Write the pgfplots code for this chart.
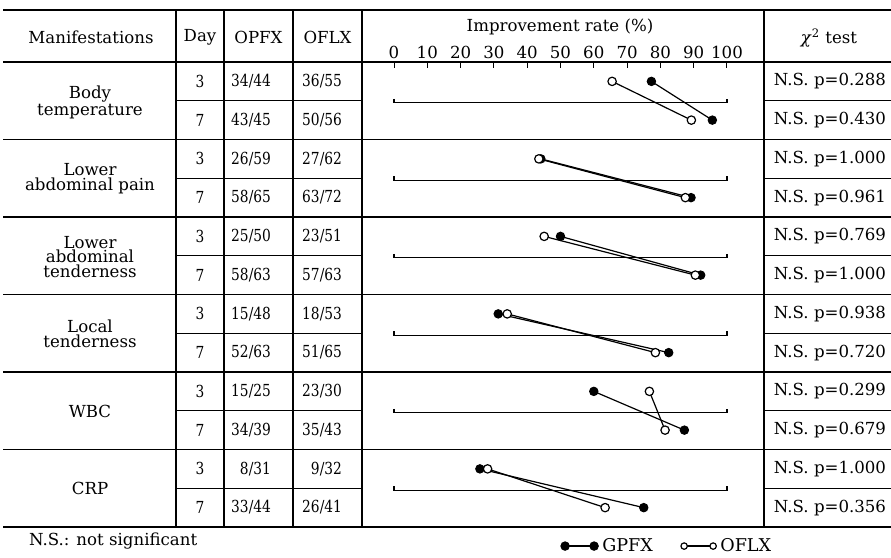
\documentclass[border=0pt]{standalone}
\usepackage{fontspec}
\setmainfont{DejaVu Serif}
\newfontfamily\numfont{DejaVu Serif}[FakeStretch=0.83]
\usepackage{pgfplots}
\pgfplotsset{compat=1.18}

\newcommand{\tf}{\fontsize{8.3}{7.4}\selectfont}

\pgfplotsset{
    gp/.style={black, line width=0.6pt, mark=*, mark size=2.1pt, mark options={fill=black, line width=0.5pt}},
    of/.style={black, line width=0.6pt, mark=*, mark size=2.1pt, mark options={fill=white, line width=0.6pt}},
    brk/.style={black, line width=0.55pt, mark=none},
}

\begin{document}
\begin{tikzpicture}[font=\tf]
    % table grid, in pixel units of the 891x558 reference
    \begin{scope}[x=0.5pt, y=-0.5pt]
        \draw[line width=0.9pt] (3,10) -- (891,10);
        \draw[line width=0.75pt] (3,62) -- (891,62);
        \foreach \y in {139.5,217,294.5,372,449.5}
            \draw[line width=0.7pt] (3,\y) -- (891,\y);
        \draw[line width=0.9pt] (3,527) -- (891,527);
        \foreach \x in {176,224,293,362,764}
            \draw[line width=0.65pt] (\x,10) -- (\x,527);
        \foreach \y in {100.75,178.25,255.75,333.25,410.75,488.25} {
            \draw[line width=0.55pt] (176,\y) -- (362,\y);
            \draw[line width=0.55pt] (764,\y) -- (891,\y);
        }
        % header
        \node at (91,37) {Manifestations};
        \node at (200,37) {Day};
        \node at (258.5,37) {OPFX};
        \node at (327.5,37) {OFLX};
        \node at (560,27) {Improvement rate (\%)};
        \node at (829,38) {\textit{χ}\textsuperscript{2} test};
        % manifestations
        \node[align=center] at (90,102) {Body\\temperature};
        \node[align=center] at (90,179) {Lower\\abdominal pain};
        \node[align=center] at (90,257) {Lower\\abdominal\\tenderness};
        \node[align=center] at (90,334) {Local\\tenderness};
        \node[align=center] at (90,411) {WBC};
        \node[align=center] at (90,488) {CRP};
        % day / counts / test per row
        \foreach \y/\d/\a/\b/\p in {
            81.4/3/34\slash 44/36\slash 55/0.288,
            120.1/7/43\slash 45/50\slash 56/0.430,
            158.9/3/26\slash 59/27\slash 62/1.000,
            197.6/7/58\slash 65/63\slash 72/0.961,
            236.4/3/25\slash 50/23\slash 51/0.769,
            275.1/7/58\slash 63/57\slash 63/1.000,
            313.9/3/15\slash 48/18\slash 53/0.938,
            352.6/7/52\slash 63/51\slash 65/0.720,
            391.4/3/15\slash 25/23\slash 30/0.299,
            430.1/7/34\slash 39/35\slash 43/0.679,
            468.9/3/8\slash 31/9\slash 32/1.000,
            507.6/7/33\slash 44/26\slash 41/0.356} {
            \node at (200,\y) {\numfont\d};
            \node[anchor=east] at (278,\y) {\numfont\a};
            \node[anchor=east] at (349,\y) {\numfont\b};
            \node at (830,\y) {N.S. p=\p};
        }
        \node[anchor=west] at (22,541) {N.S.: not significant};
    \end{scope}

    \begin{axis}[
        at={(197pt,-263.5pt)}, anchor=south west,
        scale only axis, width=166.5pt, height=232.5pt,
        xmin=0, xmax=100, ymin=0, ymax=12,
        clip=false,
        axis x line*=top, axis y line=none,
        axis line style={draw=none},
        xtick={0,10,...,100},
        tick align=inside, major tick length=3pt,
        xtick style={black, line width=0.5pt},
        /pgf/number format/assume math mode=true,
        tick label style={font=\tf, inner sep=1.2pt},
        legend columns=2,
        legend image code/.code={\draw[#1] plot coordinates {(0pt,0pt) (14.5pt,0pt)};},
        legend style={at={(0.5,-0.041)}, anchor=west, draw=none, fill=none,
            inner sep=0pt, font=\fontsize{8.8}{9}\selectfont,
            /tikz/every even column/.append style={column sep=12pt}},
    ]
        \addlegendimage{gp}
        \addlegendentry{GPFX}
        \addlegendimage{of, mark size=1.6pt}
        \addlegendentry{OFLX}

        % brackets
        \addplot[brk] coordinates {(0,11.05) (0,10.95) (100,10.95) (100,11.05)};
        \addplot[brk] coordinates {(0,9.05) (0,8.95) (100,8.95) (100,9.05)};
        \addplot[brk] coordinates {(0,7.05) (0,6.95) (100,6.95) (100,7.05)};
        \addplot[brk] coordinates {(0,5.05) (0,4.95) (100,4.95) (100,5.05)};
        \addplot[brk] coordinates {(0,3.05) (0,2.95) (100,2.95) (100,3.05)};
        \addplot[brk] coordinates {(0,1.05) (0,0.95) (100,0.95) (100,1.05)};

        % GPFX (day 3 upper row, day 7 lower row)
        \addplot[gp] coordinates {(77.3,11.5) (95.6,10.5)};
        \addplot[gp] coordinates {(44.1,9.5) (89.2,8.5)};
        \addplot[gp] coordinates {(50.0,7.5) (92.1,6.5)};
        \addplot[gp] coordinates {(31.3,5.5) (82.5,4.5)};
        \addplot[gp] coordinates {(60.0,3.5) (87.2,2.5)};
        \addplot[gp] coordinates {(25.8,1.5) (75.0,0.5)};

        % OFLX
        \addplot[of] coordinates {(65.5,11.5) (89.3,10.5)};
        \addplot[of] coordinates {(43.5,9.5) (87.5,8.5)};
        \addplot[of] coordinates {(45.1,7.5) (90.5,6.5)};
        \addplot[of] coordinates {(34.0,5.5) (78.5,4.5)};
        \addplot[of] coordinates {(76.7,3.5) (81.4,2.5)};
        \addplot[of] coordinates {(28.1,1.5) (63.4,0.5)};
    \end{axis}

    \begin{scope}[x=0.5pt, y=-0.5pt]
        \pgfresetboundingbox
        \path (0,0) rectangle (891,558);
    \end{scope}
\end{tikzpicture}
\end{document}
